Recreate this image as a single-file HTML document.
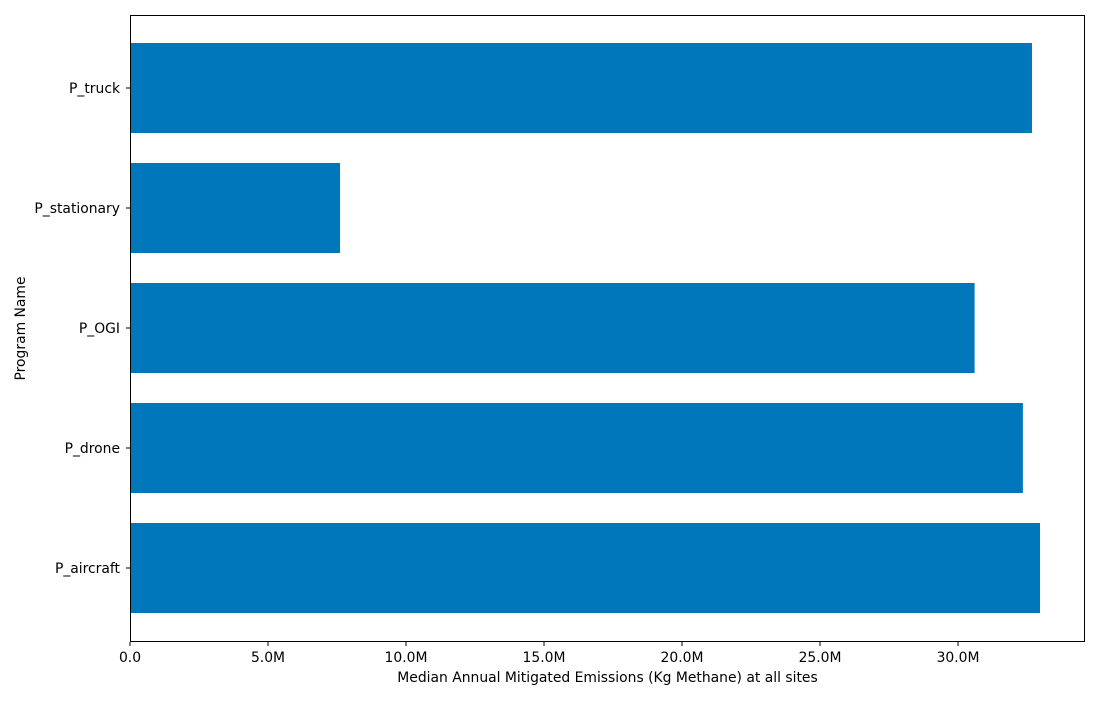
<!DOCTYPE html>
<html><head><meta charset="utf-8"><style>
body{margin:0;background:#fff;font-family:"DejaVu Sans",sans-serif;}
svg text{font-family:"DejaVu Sans",sans-serif;font-size:13.9px;fill:#000;}
</style></head><body>
<svg id="chart" width="1100" height="700"></svg>
<script>
const categories = ["P_truck","P_stationary","P_OGI","P_drone","P_aircraft"];
const values = [32.68, 7.61, 30.6, 32.35, 32.97];
const ticks = [0,5,10,15,20,25,30];
const tickLabels = ["0.0","5.0M","10.0M","15.0M","20.0M","25.0M","30.0M"];
const NS="http://www.w3.org/2000/svg";
const svg=document.getElementById('chart');
const L=130,R=1085,T=15,B=642,xmax=34.6;
const x=v=>L+v/xmax*(R-L);
const y=i=>T+73+i*120;
function mk(tag,attrs,parent){const e=document.createElementNS(NS,tag);for(const k in attrs)e.setAttribute(k,attrs[k]);(parent||svg).appendChild(e);return e;}
categories.forEach((c,i)=>{
  const b=mk('rect',{x:L,y:y(i)-45,width:x(values[i])-L,height:90,fill:'#0077bb'});
  
  
  const t=mk('line',{x1:L-4,x2:L,y1:y(i),y2:y(i),stroke:'#000'});
  
  
  const l=mk('text',{x:L-10,y:y(i)+5,'text-anchor':'end'});l.textContent=c;
  
  
});
ticks.forEach((v,i)=>{
  const t=mk('line',{x1:x(v),x2:x(v),y1:B,y2:B+4,stroke:'#000'});
  
  
  const l=mk('text',{x:x(v),y:B+20,'text-anchor':'middle'});l.textContent=tickLabels[i];
  
  
});
const f=mk('rect',{x:L+0.5,y:T+0.5,width:R-L-1,height:B-T-1,fill:'none',stroke:'#000'});


const xt=mk('text',{x:(L+R)/2,y:682,'text-anchor':'middle'});xt.textContent="Median Annual Mitigated Emissions (Kg Methane) at all sites";


const yt=mk('text',{x:25,y:(T+B)/2,'text-anchor':'middle',transform:`rotate(-90 25 ${(T+B)/2})`});yt.textContent="Program Name";


</script>
</body></html>
